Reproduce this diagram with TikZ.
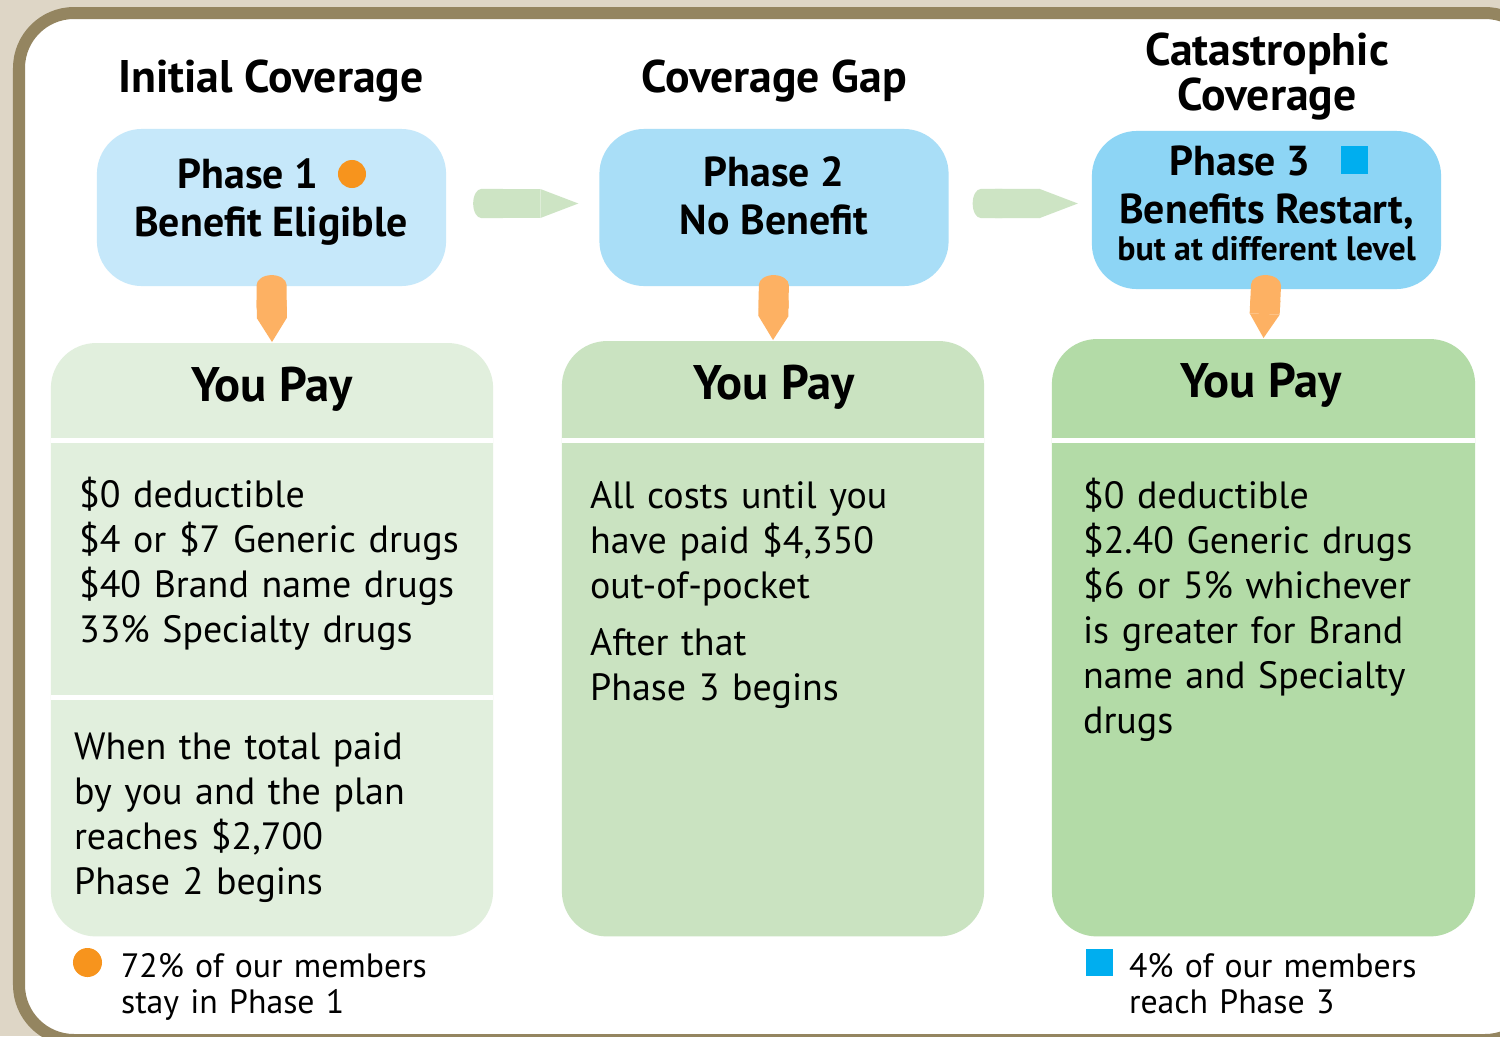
\documentclass[tikz,border=0pt]{standalone}
\usepackage{fontspec}
\setmainfont{PT Sans}
\usetikzlibrary{arrows.meta}

\definecolor{bgbeige}{HTML}{DED6C6}
\definecolor{framebrown}{HTML}{948560}
\definecolor{blueA}{HTML}{C6E8FA}
\definecolor{blueB}{HTML}{A9DEF7}
\definecolor{blueC}{HTML}{8DD5F5}
\definecolor{greenA}{HTML}{E1EFDD}
\definecolor{greenB}{HTML}{CAE3C1}
\definecolor{greenC}{HTML}{B3DBA7}
\definecolor{nextgreen}{HTML}{CDE4C4}
\definecolor{downorange}{HTML}{FDB163}
\definecolor{dotorange}{HTML}{F7941D}
\definecolor{sqblue}{HTML}{00AEEF}

\begin{document}
\begin{tikzpicture}[x=0.01cm, y=-0.01cm, semithick]
  \tikzstyle{heading}=[font=\fontsize{13}{12.8}\selectfont\bfseries, align=center]
  \tikzstyle{phase}=[rounded corners=0.45cm, minimum width=3.49cm, minimum height=1.57cm]
  \tikzstyle{phase text}=[font=\fontsize{11.9}{13.7}\selectfont\bfseries, align=center]
  \tikzstyle{pay}=[rounded corners=0.45cm, anchor=north]
  \tikzstyle{pay head}=[font=\fontsize{13.8}{14}\selectfont\bfseries]
  \tikzstyle{body}=[font=\fontsize{10.8}{12.8}\selectfont, anchor=base west, align=left, inner sep=0pt]
  \tikzstyle{note}=[font=\fontsize{9.6}{10.5}\selectfont, anchor=base west, align=left, inner sep=0pt, text width=3.8cm]
  \tikzstyle{split}=[white, line width=0.05cm]
  \tikzstyle{next}=[draw=nextgreen, line width=0.29cm, {Round Cap[length=0.08cm]}-{Triangle[length=0.38cm, width=0.29cm, line width=0pt]}]
  \tikzstyle{down}=[draw=downorange, line width=0.3cm, {Round Cap[length=0.1cm]}-{Triangle[length=0.24cm, width=0.3cm, line width=0pt]}]

  \useasboundingbox (0,0) rectangle (1500,1036);
  \clip (0,0) rectangle (1500,1036);
  \fill[bgbeige] (0,0) rectangle (1500,1036);
  \draw[framebrown, line width=0.12cm, fill=white, rounded corners=0.55cm] (19,13) rectangle (1540,1040);

  % Phases
  \node[heading] (h1) at (271,81) {Initial Coverage};
  \node[heading] (h2) at (774,81) {Coverage Gap};
  \node[heading] (h3) at (1267,77) {Catastrophic\\Coverage};

  \node[phase, fill=blueA] (p1) at (271.5,207.5) {};
  \node[phase, fill=blueB] (p2) at (774,207.5) {};
  \node[phase, fill=blueC, minimum height=1.58cm] (p3) at (1266.5,210) {};

  \node[phase text] (p1t) at (271,202) {Phase 1\rule{0.46cm}{0pt}\\Benefit Eligible};
  \node[phase text] (p2t) at (774,196) {Phase 2\\No Benefit};
  \node[phase text] (p3t) at (1266.5,188) {Phase 3\rule{0.53cm}{0pt}\\Benefits Restart,};
  \node[font=\fontsize{9.65}{11}\selectfont\bfseries] (p3s) at (1266.5,249) {but at different level};

  \node[circle, fill=dotorange, minimum size=0.28cm, inner sep=0pt] (d1) at (352,174) {};
  \node[fill=sqblue, minimum size=0.27cm, inner sep=0pt] (s3) at (1354.5,160) {};

  \draw[next, shorten <=0.26cm, shorten >=0.2cm] ([yshift=0.04cm]p1.east) -- ([yshift=0.04cm]p2.west);
  \draw[next, shorten <=0.23cm, shorten >=0.13cm] ([yshift=0.04cm]p2.east) -- ([yshift=0.065cm]p3.west);

  % You pay
  \node[pay, fill=greenA, minimum width=4.42cm, minimum height=5.93cm] (y1) at (272,342) {};
  \node[pay, fill=greenB, minimum width=4.22cm, minimum height=5.95cm] (y2) at (773,340) {};
  \node[pay, fill=greenC, minimum width=4.23cm, minimum height=5.97cm] (y3) at (1263.5,338) {};

  \draw[down] ([yshift=0.12cm]p1.south) -- (y1.north);
  \draw[down] ([yshift=0.12cm]p2.south) -- (y2.north);
  \draw[down] ([yshift=0.15cm]p3.south) -- (y3.north);

  \draw[split] (51,440) -- (493,440);
  \draw[split] (51,697) -- (493,697);
  \draw[split] (562,440) -- (984,440);
  \draw[split] (1052,440) -- (1475,440);

  \node[pay head] (y1h) at (272,389) {You Pay};
  \node[pay head] (y2h) at (774,387) {You Pay};
  \node[pay head] (y3h) at (1261,385) {You Pay};

  \node[body, text width=4.3cm] (c1) at (78,507) {\$0 deductible\\\$4 or \$7 Generic drugs\\\$40 Brand name drugs\\33\% Specialty drugs};
  \node[body, text width=4.3cm] (c1b) at (73,759) {When the total paid\\by you and the plan\\reaches \$2,700\\Phase 2 begins};
  \node[body, text width=3.9cm] (c2) at (589,508) {All costs until you\\have paid \$4,350\\out-of-pocket\\[0.12cm]After that\\Phase 3 begins};
  \node[body, text width=3.9cm] (c3) at (1082,508) {\$0 deductible\\\$2.40 Generic drugs\\\$6 or 5\% whichever\\is greater for Brand\\name and Specialty\\drugs};

  % Legend
  \node[circle, fill=dotorange, minimum size=0.29cm, inner sep=0pt] (l1) at (87.5,962.5) {};
  \node[note] (n1) at (120,977) {72\% of our members\\stay in Phase 1};
  \node[fill=sqblue, minimum size=0.27cm, inner sep=0pt] (l3) at (1099.5,962) {};
  \node[note] (n3) at (1128,977) {4\% of our members\\reach Phase 3};
\end{tikzpicture}
\end{document}
